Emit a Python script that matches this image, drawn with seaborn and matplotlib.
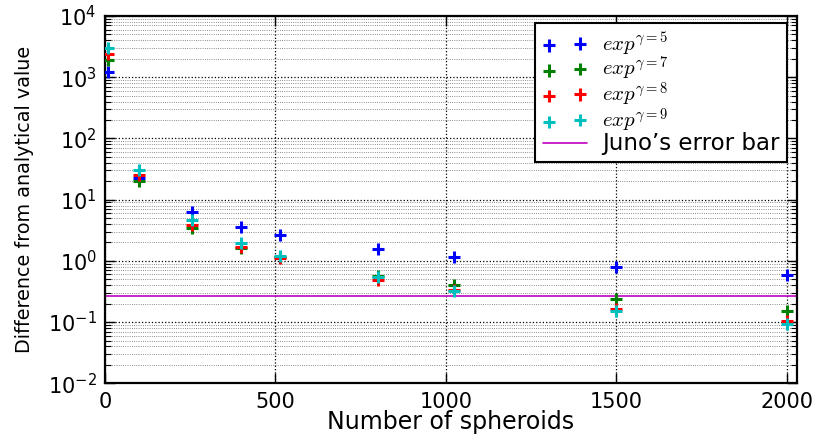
import numpy as np
import pandas as pd
import matplotlib
matplotlib.use('Agg')
import matplotlib.pyplot as plt
import seaborn as sns

# number of spheroids
n_spheroids = [10, 100, 256, 400, 512, 800, 1024, 1500, 2000]

# difference from analytical value, one list per exponent
diff_g5 = [1230, 22.9, 6.2, 3.54, 2.65, 1.56, 1.17, 0.795, 0.58]
diff_g7 = [1910, 20.4, 3.5, 1.64, 1.15, 0.567, 0.404, 0.236, 0.152]
diff_g8 = [2400, 25.3, 3.86, 1.71, 1.10, 0.488, 0.335, 0.166, 0.103]
diff_g9 = [2970, 30.5, 4.66, 1.98, 1.20, 0.54, 0.326, 0.154, 0.093]

juno_error = 0.267

series_labels = [r'$exp^{\gamma=5}$', r'$exp^{\gamma=7}$',
                 r'$exp^{\gamma=8}$', r'$exp^{\gamma=9}$']
series_colors = ['#0000ff', '#008000', '#ff0000', '#00bfbf']
series_values = [diff_g5, diff_g7, diff_g8, diff_g9]

sns.set_style('ticks')
plt.rcParams['font.family'] = ['DejaVu Sans']
plt.rcParams['mathtext.fontset'] = 'cm'
plt.rcParams['text.color'] = 'k'
plt.rcParams['axes.labelcolor'] = 'k'
plt.rcParams['xtick.color'] = 'k'
plt.rcParams['ytick.color'] = 'k'

fig = plt.figure(figsize=(8.3, 4.36), dpi=100)
ax = fig.add_axes([0.1265, 0.1209, 0.8337, 0.8424])

for lab, col, vals in zip(series_labels, series_colors, series_values):
    df = pd.DataFrame({'N': n_spheroids, 'diff': vals})
    sns.scatterplot(data=df, x='N', y='diff', marker='+', color=col,
                    s=80, linewidth=2.2, label=lab, ax=ax, zorder=3)

ax.axhline(juno_error, color='m', lw=1.2, label="Juno’s error bar", zorder=2)

ax.set_yscale('log')
ax.set_xlim(0, 2030)
ax.set_ylim(1e-2, 1e4)
ax.set_xticks([0, 500, 1000, 1500, 2000])
ax.set_yticks([1e-2, 1e-1, 1e0, 1e1, 1e2, 1e3, 1e4])

ax.grid(True, which='major', color='k', ls=':', lw=0.9)
ax.grid(True, which='minor', axis='y', color='k', ls=':', lw=0.6, alpha=0.6)

ax.tick_params(which='both', direction='in', top=True, right=True,
               labelsize=15, pad=6)
ax.tick_params(which='major', length=7, width=1)
ax.tick_params(which='minor', length=4, width=0.8)
for sp in ax.spines.values():
    sp.set_visible(True)
    sp.set_linewidth(1.6)
    sp.set_color('k')

ax.set_xlabel('Number of spheroids', fontsize=17, labelpad=-1)
ax.set_ylabel('Difference from analytical value', fontsize=13.8, labelpad=10)

leg = ax.legend(loc='upper right', bbox_to_anchor=(0.9855, 0.981),
                borderaxespad=0, scatterpoints=2, fontsize=15,
                fancybox=False, framealpha=1, edgecolor='k',
                handlelength=2.1, handletextpad=0.75, labelspacing=-0.12,
                borderpad=0.35)
leg.get_frame().set_linewidth(1.5)
leg.get_texts()[-1].set_fontsize(16.5)

fig.savefig('out.png', dpi=100)
